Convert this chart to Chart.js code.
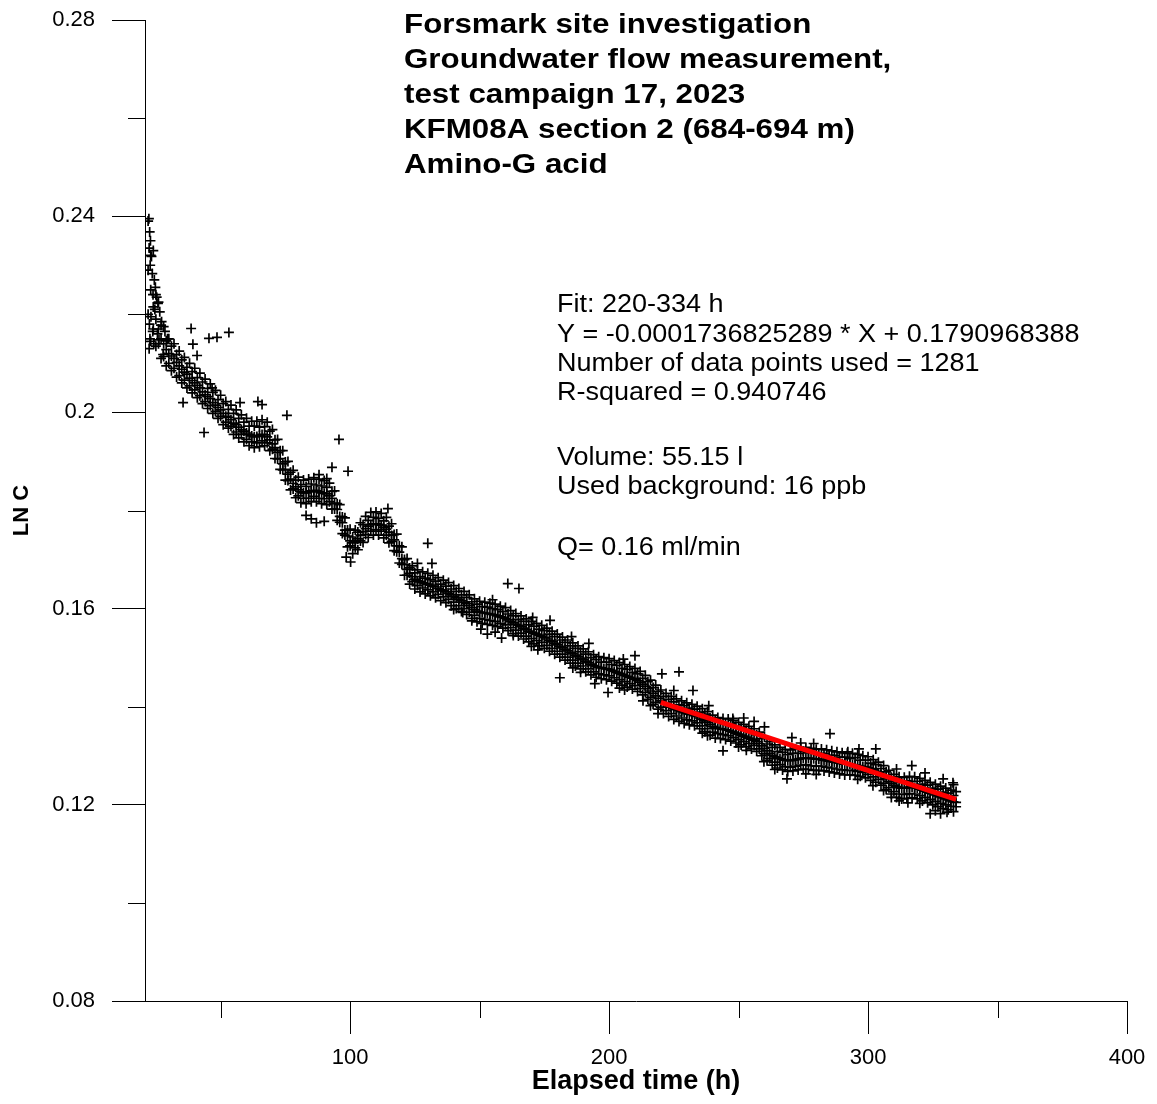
<!DOCTYPE html>
<html>
<head>
<meta charset="utf-8">
<title>KFM08A section 2 - Amino-G acid</title>
<script src="https://cdn.jsdelivr.net/npm/chart.js@4.4.1/dist/chart.umd.min.js"></script>
<style>
  html, body { margin: 0; padding: 0; background: #fff; }
  #wrap { width: 1157px; height: 1104px; }
</style>
</head>
<body>
<div id="wrap"><canvas id="chart" width="1157" height="1104"></canvas></div>
<script>
// ── Data ────────────────────────────────────────────────────────────────
// LN C, centre of the band, one value per hour from 22 h to 334 h
const MID_START = 22, MID_STEP = 1;
const lnMid = [
  0.2290, 0.2250, 0.2215, 0.2190, 0.2170, 0.2150, 0.2140, 0.2128, 0.2120, 0.2115,
  0.2110, 0.2102, 0.2095, 0.2088, 0.2082, 0.2078, 0.2070, 0.2065, 0.2060, 0.2055,
  0.2050, 0.2042, 0.2036, 0.2032, 0.2028, 0.2020, 0.2015, 0.2010, 0.2005, 0.1998,
  0.1992, 0.1990, 0.1985, 0.1978, 0.1975, 0.1970, 0.1965, 0.1962, 0.1958, 0.1955,
  0.1952, 0.1950, 0.1951, 0.1953, 0.1955, 0.1954, 0.1950, 0.1944, 0.1936, 0.1928,
  0.1918, 0.1906, 0.1895, 0.1884, 0.1874, 0.1864, 0.1855, 0.1848, 0.1842, 0.1838,
  0.1836, 0.1836, 0.1838, 0.1840, 0.1841, 0.1840, 0.1838, 0.1836, 0.1835, 0.1834,
  0.1830, 0.1825, 0.1815, 0.1802, 0.1788, 0.1775, 0.1760, 0.1748, 0.1738, 0.1734,
  0.1736, 0.1742, 0.1750, 0.1757, 0.1763, 0.1768, 0.1771, 0.1773, 0.1773, 0.1772,
  0.1770, 0.1766, 0.1762, 0.1756, 0.1749, 0.1740, 0.1728, 0.1715, 0.1702, 0.1690,
  0.1680, 0.1672, 0.1665, 0.1660, 0.1657, 0.1655, 0.1653, 0.1651, 0.1650, 0.1648,
  0.1646, 0.1644, 0.1641, 0.1638, 0.1636, 0.1634, 0.1631, 0.1628, 0.1625, 0.1622,
  0.1619, 0.1616, 0.1613, 0.1610, 0.1606, 0.1602, 0.1598, 0.1595, 0.1593, 0.1592,
  0.1591, 0.1590, 0.1589, 0.1588, 0.1587, 0.1585, 0.1583, 0.1582, 0.1580, 0.1577,
  0.1574, 0.1571, 0.1568, 0.1566, 0.1563, 0.1560, 0.1557, 0.1554, 0.1552, 0.1550,
  0.1548, 0.1546, 0.1544, 0.1541, 0.1538, 0.1535, 0.1532, 0.1529, 0.1526, 0.1523,
  0.1520, 0.1517, 0.1514, 0.1511, 0.1508, 0.1505, 0.1502, 0.1499, 0.1496, 0.1493,
  0.1490, 0.1487, 0.1484, 0.1482, 0.1480, 0.1479, 0.1478, 0.1477, 0.1476, 0.1474,
  0.1472, 0.1470, 0.1468, 0.1466, 0.1464, 0.1462, 0.1460, 0.1458, 0.1456, 0.1453,
  0.1450, 0.1446, 0.1442, 0.1437, 0.1432, 0.1427, 0.1422, 0.1417, 0.1412, 0.1408,
  0.1405, 0.1402, 0.1399, 0.1396, 0.1394, 0.1392, 0.1390, 0.1388, 0.1386, 0.1385,
  0.1384, 0.1382, 0.1380, 0.1377, 0.1374, 0.1371, 0.1368, 0.1364, 0.1360, 0.1358,
  0.1356, 0.1355, 0.1354, 0.1353, 0.1352, 0.1350, 0.1348, 0.1346, 0.1344, 0.1342,
  0.1340, 0.1338, 0.1336, 0.1334, 0.1332, 0.1329, 0.1325, 0.1320, 0.1315, 0.1310,
  0.1305, 0.1301, 0.1298, 0.1296, 0.1294, 0.1292, 0.1291, 0.1290, 0.1290, 0.1291,
  0.1292, 0.1293, 0.1294, 0.1295, 0.1295, 0.1295, 0.1294, 0.1294, 0.1293, 0.1293,
  0.1292, 0.1291, 0.1290, 0.1289, 0.1288, 0.1287, 0.1286, 0.1285, 0.1284, 0.1283,
  0.1283, 0.1283, 0.1282, 0.1281, 0.1280, 0.1279, 0.1278, 0.1277, 0.1276, 0.1274,
  0.1271, 0.1268, 0.1265, 0.1262, 0.1258, 0.1253, 0.1248, 0.1244, 0.1240, 0.1237,
  0.1235, 0.1234, 0.1234, 0.1235, 0.1236, 0.1236, 0.1235, 0.1234, 0.1232, 0.1230,
  0.1228, 0.1226, 0.1224, 0.1222, 0.1220, 0.1218, 0.1216, 0.1214, 0.1212, 0.1210,
  0.1208, 0.1206, 0.1205,
];

// upper edge of the band, every 2 h from 22 h
const HIGH_START = 22, HIGH_STEP = 2;
const lnHigh = [
  0.2390, 0.2330, 0.2225, 0.2175, 0.2150, 0.2140, 0.2125, 0.2112, 0.2100, 0.2090,
  0.2080, 0.2068, 0.2058, 0.2045, 0.2035, 0.2022, 0.2015, 0.2005, 0.1995, 0.1988,
  0.1982, 0.1982, 0.1985, 0.1980, 0.1965, 0.1945, 0.1922, 0.1900, 0.1882, 0.1868,
  0.1862, 0.1864, 0.1867, 0.1864, 0.1861, 0.1856, 0.1840, 0.1812, 0.1785, 0.1762,
  0.1760, 0.1775, 0.1788, 0.1796, 0.1797, 0.1794, 0.1786, 0.1773, 0.1752, 0.1726,
  0.1702, 0.1687, 0.1679, 0.1675, 0.1672, 0.1668, 0.1663, 0.1658, 0.1653, 0.1647,
  0.1641, 0.1635, 0.1628, 0.1620, 0.1615, 0.1613, 0.1611, 0.1609, 0.1605, 0.1602,
  0.1596, 0.1590, 0.1585, 0.1579, 0.1574, 0.1570, 0.1566, 0.1560, 0.1554, 0.1548,
  0.1542, 0.1536, 0.1530, 0.1524, 0.1518, 0.1512, 0.1506, 0.1502, 0.1500, 0.1498,
  0.1494, 0.1490, 0.1486, 0.1482, 0.1478, 0.1472, 0.1464, 0.1454, 0.1444, 0.1434,
  0.1427, 0.1421, 0.1416, 0.1412, 0.1408, 0.1405, 0.1401, 0.1396, 0.1390, 0.1383,
  0.1378, 0.1376, 0.1375, 0.1372, 0.1368, 0.1364, 0.1360, 0.1355, 0.1348, 0.1338,
  0.1329, 0.1322, 0.1317, 0.1313, 0.1312, 0.1314, 0.1316, 0.1317, 0.1315, 0.1313,
  0.1314, 0.1312, 0.1310, 0.1308, 0.1306, 0.1305, 0.1305, 0.1303, 0.1300, 0.1298,
  0.1292, 0.1287, 0.1280, 0.1270, 0.1262, 0.1257, 0.1256, 0.1258, 0.1257, 0.1254,
  0.1250, 0.1246, 0.1242, 0.1238, 0.1234, 0.1230, 0.1227,
];

// between centre and upper edge, every 2 h from 23 h
const UPPER_MID_START = 23, UPPER_MID_STEP = 2;
const lnUpperMid = [
  0.2320, 0.2240, 0.2178, 0.2146, 0.2135, 0.2118, 0.2107, 0.2092, 0.2083, 0.2071,
  0.2062, 0.2049, 0.2041, 0.2026, 0.2018, 0.2006, 0.1998, 0.1988, 0.1980, 0.1972,
  0.1972, 0.1970, 0.1971, 0.1962, 0.1944, 0.1922, 0.1899, 0.1878, 0.1862, 0.1853,
  0.1849, 0.1854, 0.1852, 0.1850, 0.1847, 0.1839, 0.1814, 0.1787, 0.1760, 0.1746,
  0.1756, 0.1771, 0.1780, 0.1786, 0.1784, 0.1779, 0.1768, 0.1751, 0.1728, 0.1700,
  0.1683, 0.1673, 0.1665, 0.1662, 0.1659, 0.1656, 0.1650, 0.1646, 0.1640, 0.1635,
  0.1628, 0.1623, 0.1614, 0.1609, 0.1604, 0.1603, 0.1600, 0.1598, 0.1594, 0.1589,
  0.1585, 0.1578, 0.1574, 0.1567, 0.1564, 0.1558, 0.1555, 0.1548, 0.1543, 0.1536,
  0.1531, 0.1524, 0.1519, 0.1512, 0.1507, 0.1500, 0.1496, 0.1491, 0.1491, 0.1486,
  0.1484, 0.1478, 0.1476, 0.1470, 0.1467, 0.1458, 0.1451, 0.1439, 0.1431, 0.1421,
  0.1415, 0.1410, 0.1404, 0.1402, 0.1397, 0.1395, 0.1389, 0.1385, 0.1377, 0.1372,
  0.1369, 0.1365, 0.1365, 0.1360, 0.1358, 0.1352, 0.1349, 0.1343, 0.1335, 0.1324,
  0.1317, 0.1309, 0.1307, 0.1302, 0.1305, 0.1305, 0.1309, 0.1306, 0.1306, 0.1303,
  0.1305, 0.1301, 0.1301, 0.1297, 0.1297, 0.1294, 0.1296, 0.1291, 0.1291, 0.1285,
  0.1282, 0.1274, 0.1267, 0.1256, 0.1252, 0.1246, 0.1249, 0.1247, 0.1248, 0.1242,
  0.1240, 0.1234, 0.1232, 0.1226, 0.1224, 0.1219,
];

// lower edge of the band, every 2 h from 23 h
const LOW_START = 23, LOW_STEP = 2;
const lnLow = [
  0.2145, 0.2135, 0.2110, 0.2095, 0.2085, 0.2072, 0.2060, 0.2050, 0.2040, 0.2030,
  0.2018, 0.2008, 0.1998, 0.1988, 0.1975, 0.1968, 0.1955, 0.1948, 0.1940, 0.1932,
  0.1928, 0.1930, 0.1932, 0.1922, 0.1906, 0.1884, 0.1862, 0.1842, 0.1826, 0.1816,
  0.1814, 0.1818, 0.1818, 0.1814, 0.1812, 0.1803, 0.1780, 0.1753, 0.1726, 0.1712,
  0.1720, 0.1735, 0.1745, 0.1750, 0.1750, 0.1744, 0.1734, 0.1718, 0.1693, 0.1668,
  0.1650, 0.1640, 0.1634, 0.1630, 0.1626, 0.1622, 0.1616, 0.1612, 0.1606, 0.1600,
  0.1594, 0.1588, 0.1580, 0.1573, 0.1570, 0.1568, 0.1566, 0.1563, 0.1560, 0.1555,
  0.1549, 0.1544, 0.1538, 0.1532, 0.1528, 0.1524, 0.1519, 0.1513, 0.1507, 0.1501,
  0.1495, 0.1489, 0.1483, 0.1477, 0.1471, 0.1465, 0.1460, 0.1457, 0.1455, 0.1452,
  0.1448, 0.1444, 0.1440, 0.1436, 0.1431, 0.1424, 0.1415, 0.1405, 0.1395, 0.1386,
  0.1380, 0.1374, 0.1370, 0.1366, 0.1363, 0.1361, 0.1355, 0.1349, 0.1342, 0.1336,
  0.1335, 0.1333, 0.1330, 0.1326, 0.1322, 0.1318, 0.1314, 0.1309, 0.1300, 0.1290,
  0.1281, 0.1275, 0.1271, 0.1268, 0.1269, 0.1271, 0.1273, 0.1272, 0.1270, 0.1270,
  0.1269, 0.1267, 0.1265, 0.1263, 0.1261, 0.1261, 0.1260, 0.1258, 0.1255, 0.1250,
  0.1246, 0.1240, 0.1231, 0.1222, 0.1215, 0.1212, 0.1213, 0.1214, 0.1212, 0.1208,
  0.1204, 0.1200, 0.1196, 0.1192, 0.1190, 0.1186,
];

// between centre and lower edge, every 2 h from 22 h
const LOWER_MID_START = 22, LOWER_MID_STEP = 2;
const lnLowerMid = [
  0.2200, 0.2170, 0.2140, 0.2114, 0.2100, 0.2090, 0.2075, 0.2066, 0.2054, 0.2046,
  0.2034, 0.2022, 0.2014, 0.2002, 0.1992, 0.1980, 0.1972, 0.1960, 0.1955, 0.1945,
  0.1940, 0.1938, 0.1942, 0.1938, 0.1925, 0.1905, 0.1883, 0.1861, 0.1844, 0.1830,
  0.1825, 0.1825, 0.1829, 0.1825, 0.1824, 0.1818, 0.1803, 0.1776, 0.1750, 0.1728,
  0.1724, 0.1738, 0.1751, 0.1758, 0.1761, 0.1758, 0.1750, 0.1737, 0.1716, 0.1690,
  0.1668, 0.1655, 0.1647, 0.1642, 0.1638, 0.1634, 0.1629, 0.1624, 0.1619, 0.1613,
  0.1606, 0.1600, 0.1593, 0.1586, 0.1580, 0.1578, 0.1576, 0.1574, 0.1570, 0.1567,
  0.1561, 0.1556, 0.1550, 0.1544, 0.1539, 0.1535, 0.1531, 0.1525, 0.1519, 0.1513,
  0.1507, 0.1501, 0.1495, 0.1489, 0.1483, 0.1477, 0.1471, 0.1467, 0.1465, 0.1463,
  0.1459, 0.1455, 0.1451, 0.1447, 0.1443, 0.1437, 0.1429, 0.1419, 0.1409, 0.1399,
  0.1392, 0.1386, 0.1381, 0.1377, 0.1373, 0.1371, 0.1367, 0.1361, 0.1355, 0.1348,
  0.1345, 0.1343, 0.1341, 0.1337, 0.1333, 0.1329, 0.1325, 0.1321, 0.1314, 0.1304,
  0.1294, 0.1287, 0.1282, 0.1278, 0.1277, 0.1279, 0.1281, 0.1282, 0.1280, 0.1279,
  0.1279, 0.1277, 0.1275, 0.1273, 0.1271, 0.1270, 0.1270, 0.1268, 0.1266, 0.1262,
  0.1257, 0.1252, 0.1244, 0.1235, 0.1227, 0.1222, 0.1221, 0.1223, 0.1222, 0.1219,
  0.1215, 0.1211, 0.1207, 0.1203, 0.1200, 0.1197, 0.1196,
];

// spread of the first readings (22-30 h)
const earlyHours = [22.3, 22.6, 22.9, 22.4, 23.3, 22.8, 23.6, 24.4, 24.8, 23.9, 25.3, 25.8, 24.6,
  26.5, 23.1, 22.5, 27.2, 23.8, 22.7, 25.6, 22.4, 24.2, 26.2, 28.5, 29.5, 27.8];
const earlyLnC = [0.2395, 0.2368, 0.2350, 0.2335, 0.2318, 0.2300, 0.2283, 0.2270, 0.2255, 0.2240, 0.2235,
  0.2222, 0.2210, 0.2205, 0.2195, 0.2180, 0.2185, 0.2165, 0.2150, 0.2160, 0.2130, 0.2140, 0.2148,
  0.2165, 0.2150, 0.2118];

// isolated readings away from the band
const strayHours = [38.6, 39.3, 40.9, 45.5, 48.6, 53.2, 57.5, 64.4, 66.0, 75.6, 46.7, 43.6, 35.5,
  95.7, 93.0, 99.2, 88.0, 91.0, 83.0, 85.0, 87.0, 90.0, 98.5, 100.2, 114.6, 130.0, 126.0, 131.6,
  150.5, 153.0, 156.0, 158.5, 163.0, 160.9, 165.2, 177.2, 192.2, 210.0, 220.4, 227.0, 181.0, 194.5,
  199.6, 213.1, 218.9, 232.4, 247.8, 260.0, 270.6, 285.3, 292.2, 303.0, 316.9, 329.0, 332.8, 244.0,
  259.8, 268.7, 301.9, 315.4, 324.0, 328.0, 330.5,
  140.0, 143.5, 147.0, 170.0, 172.5, 186.0, 189.0, 204.0, 206.0, 216.0, 236.0, 238.0, 250.0, 253.0,
  264.0, 276.0, 280.0, 296.0, 306.0, 309.0, 312.0, 320.0, 326.0,
  155.0, 170.5, 185.5, 205.5, 225.0, 238.5, 252.0, 256.0, 274.0, 279.0, 296.5, 311.0, 322.0, 333.0];
const strayLnC = [0.2171, 0.2139, 0.2116, 0.2151, 0.2153, 0.2163, 0.2020, 0.2022, 0.2016, 0.1994,
  0.2050, 0.1959, 0.2020, 0.1945, 0.1888, 0.1880, 0.1873, 0.1865, 0.1790, 0.1783, 0.1775, 0.1778,
  0.1705, 0.1695, 0.1804, 0.1733, 0.1692, 0.1692, 0.1558, 0.1548, 0.1552, 0.1540, 0.1545, 0.1651,
  0.1641, 0.1576, 0.1529, 0.1504, 0.1467, 0.1471, 0.1459, 0.1447, 0.1429, 0.1412, 0.1386, 0.1433,
  0.1376, 0.1359, 0.1337, 0.1345, 0.1308, 0.1314, 0.1280, 0.1253, 0.1245, 0.1310, 0.1288, 0.1253,
  0.1239, 0.1204, 0.1182, 0.1182, 0.1185,
  0.1598, 0.1592, 0.1575, 0.1523, 0.1516, 0.1479, 0.1470, 0.1438, 0.1434, 0.1402, 0.1346, 0.1341,
  0.1318, 0.1311, 0.1272, 0.1263, 0.1262, 0.1252, 0.1229, 0.1215, 0.1208, 0.1203, 0.1188,
  0.1618, 0.1582, 0.1543, 0.1497, 0.1433, 0.1402, 0.1377, 0.1370, 0.1326, 0.1325, 0.1314, 0.1273,
  0.1265, 0.1241];

// linear fit 220-334 h (end points of the red line)
const fitHours = [220, 334];
const fitLnC = [0.14089, 0.12109];

// axes
const xTickValues = [100, 200, 300, 400];
const xMinorTicks = [50, 150, 250, 350];
const yTickValues = [0.08, 0.12, 0.16, 0.2, 0.24, 0.28];
const yMinorTicks = [0.10, 0.14, 0.18, 0.22, 0.26];

const titleLines = [
  "Forsmark site investigation",
  "Groundwater flow measurement,",
  "test campaign 17, 2023",
  "KFM08A section 2 (684-694 m)",
  "Amino-G acid",
];
const noteLines = [
  "Fit: 220-334 h",
  "Y = -0.0001736825289 * X + 0.1790968388",
  "Number of data points used = 1281",
  "R-squared = 0.940746",
  "",
  "Volume: 55.15 l",
  "Used background: 16 ppb",
  "",
  "Q= 0.16 ml/min",
];

// ── helpers ─────────────────────────────────────────────────────────────
const series = (values, start, step) => values.map((v, i) => ({ x: start + i * step, y: v }));
const pairs = (xs, ys) => xs.map((x, i) => ({ x, y: ys[i] }));

const FONT = '"Liberation Sans", Arial, Helvetica, sans-serif';
Chart.defaults.font.family = FONT;
Chart.defaults.color = "#000";

const crossStyle = {
  showLine: false,
  pointStyle: "cross",
  pointRadius: 5,
  pointBorderWidth: 1.7,
  pointBorderColor: "#000",
  pointBackgroundColor: "#000",
  pointHoverRadius: 5,
  order: 1,
};

// minor ticks + header and fit notes
const overlay = {
  id: "overlay",
  afterDraw(chart) {
    const { ctx } = chart;
    const xs = chart.scales.x, ys = chart.scales.y;
    ctx.save();
    ctx.strokeStyle = "#000";
    ctx.lineWidth = 1;
    ctx.beginPath();
    yMinorTicks.forEach(v => {
      const p = Math.round(ys.getPixelForValue(v)) + 0.5;
      ctx.moveTo(ys.right - 17, p);
      ctx.lineTo(ys.right, p);
    });
    xMinorTicks.forEach(v => {
      const p = Math.round(xs.getPixelForValue(v)) + 0.5;
      ctx.moveTo(p, xs.top);
      ctx.lineTo(p, xs.top + 17);
    });
    ctx.stroke();

    ctx.fillStyle = "#000";
    ctx.textBaseline = "alphabetic";
    ctx.textAlign = "left";

    ctx.font = "bold 27px " + FONT;
    titleLines.forEach((t, i) => {
      ctx.save();
      ctx.translate(404, 33 + 35 * i);
      ctx.scale(1.16, 1);
      ctx.fillText(t, 0, 0);
      ctx.restore();
    });

    ctx.font = "25px " + FONT;
    const noteY = [312, 341.5, 371, 400, 432, 465, 494, 525, 555];
    noteLines.forEach((t, i) => {
      if (!t) return;
      ctx.save();
      ctx.translate(557, noteY[i]);
      ctx.scale(1.08, 1);
      ctx.fillText(t, 0, 0);
      ctx.restore();
    });
    ctx.restore();
  },
};

new Chart(document.getElementById("chart"), {
  type: "scatter",
  data: {
    datasets: [
      {
        label: "Fit 220-334 h",
        data: pairs(fitHours, fitLnC),
        showLine: true,
        borderColor: "#ff0000",
        borderWidth: 5,
        pointRadius: 0,
        order: 0,
      },
      { label: "LN C", data: series(lnMid, MID_START, MID_STEP), ...crossStyle },
      { label: "LN C high", data: series(lnHigh, HIGH_START, HIGH_STEP), ...crossStyle },
      { label: "LN C upper mid", data: series(lnUpperMid, UPPER_MID_START, UPPER_MID_STEP), ...crossStyle },
      { label: "LN C low", data: series(lnLow, LOW_START, LOW_STEP), ...crossStyle },
      { label: "LN C lower mid", data: series(lnLowerMid, LOWER_MID_START, LOWER_MID_STEP), ...crossStyle },
      { label: "LN C early", data: pairs(earlyHours, earlyLnC), ...crossStyle },
      { label: "LN C stray", data: pairs(strayHours, strayLnC), ...crossStyle },
    ],
  },
  options: {
    responsive: false,
    animation: false,
    layout: { padding: { top: 20, right: 30, left: 0, bottom: 0 } },
    plugins: {
      legend: { display: false },
      tooltip: { enabled: false },
    },
    scales: {
      x: {
        type: "linear",
        min: 20.8,
        max: 400,
        afterFit: s => { s.height = 103; },
        afterBuildTicks: s => { s.ticks = xTickValues.map(v => ({ value: v })); },
        ticks: { padding: 11, font: { size: 22 }, color: "#000", maxRotation: 0 },
        grid: { drawOnChartArea: false, tickLength: 33, tickColor: "#000" },
        border: { color: "#000", width: 1 },
        title: {
          display: true,
          text: "Elapsed time (h)",
          color: "#000",
          font: { size: 27, weight: "bold" },
          padding: { top: 0, bottom: 6 },
        },
      },
      y: {
        min: 0.08,
        max: 0.28,
        // fixed axis box; the label overhang is already inside the page margin
        afterFit: s => { s.width = 145; s.paddingTop = 0; s.paddingBottom = 0; },
        afterBuildTicks: s => { s.ticks = yTickValues.map(v => ({ value: v })); },
        ticks: {
          padding: 17,
          font: { size: 22 },
          color: "#000",
          callback: v => String(Math.round(v * 100) / 100),
        },
        grid: { drawOnChartArea: false, tickLength: 33, tickColor: "#000" },
        border: { color: "#000", width: 1 },
        title: {
          display: true,
          text: "LN C",
          color: "#000",
          font: { size: 22, weight: "bold" },
          padding: { top: 9, bottom: 0 },
        },
      },
    },
  },
  plugins: [overlay],
});
</script>
</body>
</html>
